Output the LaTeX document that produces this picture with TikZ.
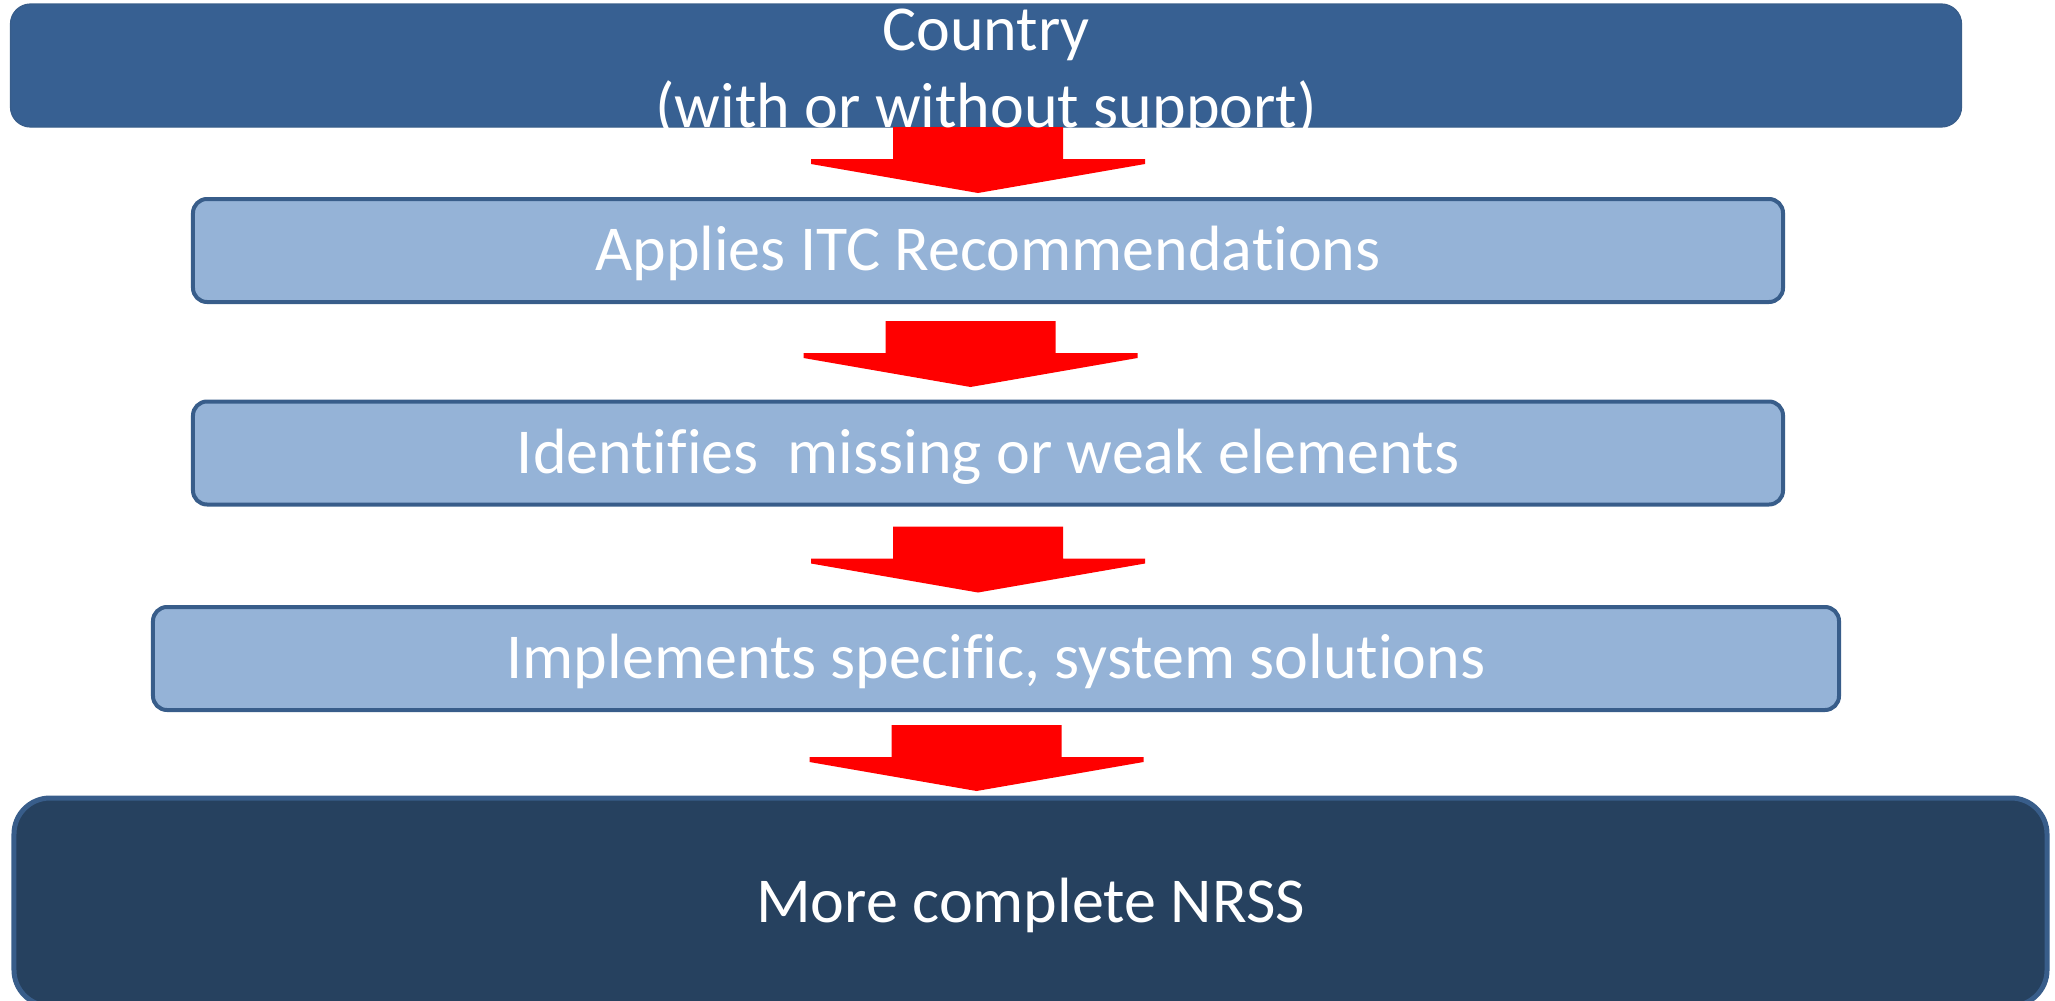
\documentclass[tikz,border=0pt]{standalone}
\usepackage{fontspec}
\setmainfont[Ligatures={NoCommon}]{Carlito}
\definecolor{topfill}{HTML}{376092}
\definecolor{lightfill}{HTML}{95B3D7}
\definecolor{boxedge}{HTML}{385D8A}
\definecolor{darkfill}{HTML}{26415F}
\definecolor{arrowred}{HTML}{FF0000}
\tikzset{
  boxtext/.style={text=white, font=\fontsize{64bp}{77bp}\selectfont},
  lightbox/.style={boxtext, draw=boxedge, line width=4bp, fill=lightfill,
    rounded corners=14bp, minimum height=103bp, text height=40bp, text depth=0bp},
  topbox/.style={draw=boxedge, line width=1.2bp, fill=topfill, rounded corners=20bp,
    minimum width=1951bp, minimum height=123bp},
  darkbox/.style={boxtext, draw=boxedge, line width=5bp, fill=darkfill, rounded corners=36bp,
    minimum width=2033bp, minimum height=208bp, text height=40bp, text depth=0bp},
  downarrow/.pic={\fill[arrowred] (-85,0) -- (85,0) -- (85,32) -- (167,32) -- (167,37)
     -- (0,66) -- (-167,37) -- (-167,32) -- (-85,32) -- cycle;}
}
\begin{document}
\begin{tikzpicture}[x=1bp,y=-1bp, every node/.style={inner sep=0pt, outer sep=0pt}]
\useasboundingbox (0,0) rectangle (2055,1001);
% boxes
\node[topbox] (country) at (986,65.5) {};
\node[darkbox] (nrss) at (1030.5,902) {More complete NRSS};
\node[lightbox, minimum width=1590bp] (apply) at (988,250.5) {Applies ITC Recommendations};
\node[lightbox, minimum width=1590bp] (ident) at (988,453) {Identifies\ \ missing or weak elements};
\node[lightbox, minimum width=1686bp] (impl) at (996,658.5) {Implements specific, system solutions};
% arrows
\pic at ([xshift=-8bp]country.south) {downarrow};
\pic at ([xshift=-17.5bp,yshift=-19bp]apply.south) {downarrow};
\pic at ([xshift=-10bp,yshift=-22bp]ident.south) {downarrow};
\pic at ([xshift=-19.5bp,yshift=-15bp]impl.south) {downarrow};
% country text (overflows its box)
\node[boxtext, align=center, anchor=base] (countrytext) at ([yshift=-61.5bp]country.center) {Country\\(with or without support)};
\end{tikzpicture}
\end{document}
